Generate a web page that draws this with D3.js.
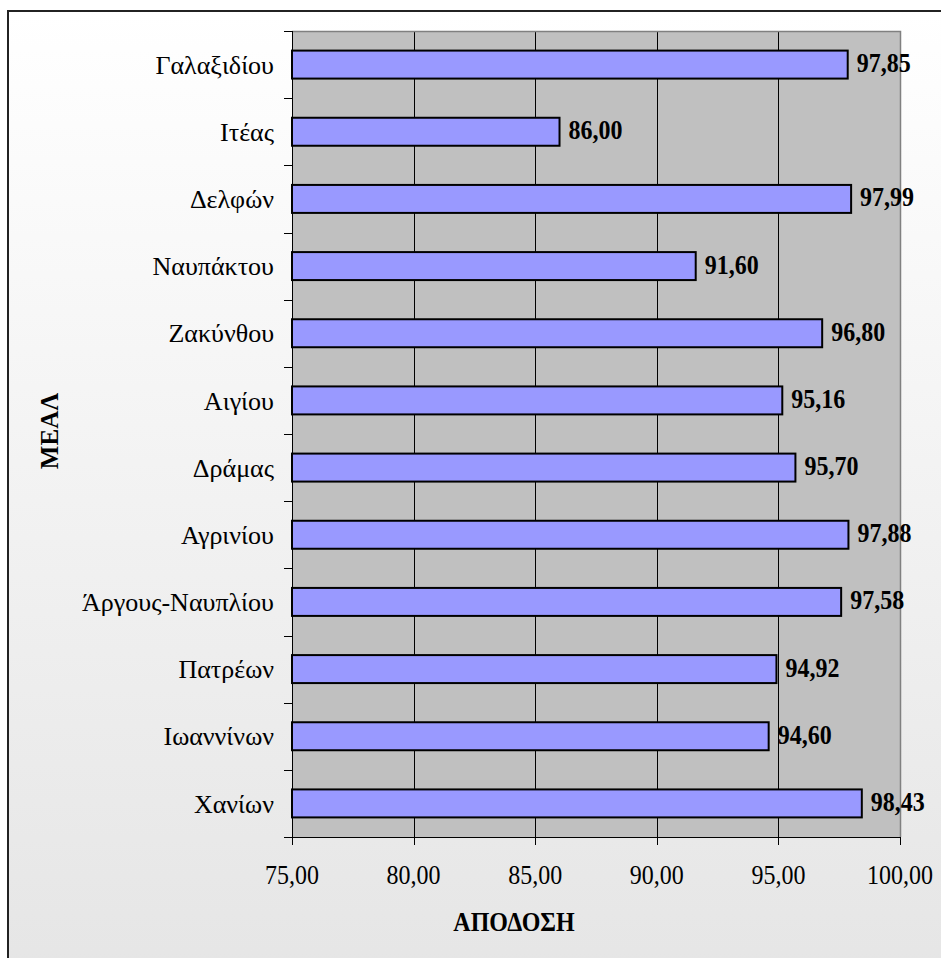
<!DOCTYPE html>
<html>
<head>
<meta charset="utf-8">
<script src="https://cdn.jsdelivr.net/npm/d3@7/dist/d3.min.js"></script>
<style>
  html, body { margin: 0; padding: 0; background: #ffffff; }
  svg { display: block; }
</style>
</head>
<body>
<svg id="chart" width="941" height="958" font-family="'Liberation Serif', 'Times New Roman', Times, serif"></svg>
<script>
// Schools (top to bottom) and their performance
const categories = [
  "Γαλαξιδίου", "Ιτέας", "Δελφών", "Ναυπάκτου", "Ζακύνθου", "Αιγίου",
  "Δράμας", "Αγρινίου", "Άργους-Ναυπλίου", "Πατρέων", "Ιωαννίνων", "Χανίων"
];
const values = [97.85, 86.00, 97.99, 91.60, 96.80, 95.16, 95.70, 97.88, 97.58, 94.92, 94.60, 98.43];
const xTicks = [75, 80, 85, 90, 95, 100];
const xTitle = "ΑΠΟΔΟΣΗ";
const yTitle = "ΜΕΑΛ";

const svg = d3.select("#chart");
const W = 941, H = 958;
const FONT = "'Liberation Serif', 'Times New Roman', Times, serif";
const STRETCH = 1.12; // slightly tall lettering for numbers and titles

// Chart-area background: soft vertical gradient inside a dark frame
const defs = svg.append("defs");
const grad = defs.append("linearGradient")
  .attr("id", "bg").attr("x1", 0).attr("y1", 0).attr("x2", 0).attr("y2", 1);
grad.append("stop").attr("offset", "0%").attr("stop-color", "#ffffff");
grad.append("stop").attr("offset", "100%").attr("stop-color", "#e5e5e5");

svg.append("rect")
  .attr("x", 8).attr("y", 11)
  .attr("width", W + 20).attr("height", H + 20)
  .attr("fill", "url(#bg)")
  .attr("stroke", "#222").attr("stroke-width", 2);

// Plot area
const plot = { left: 292, right: 900, top: 31, bottom: 837 };

const x = d3.scaleLinear().domain([75, 100]).range([plot.left, plot.right]);
const y = d3.scaleBand().domain(categories).range([plot.top, plot.bottom]).padding(0);
const barH = y.bandwidth() / 2.4;

svg.append("rect")
  .attr("x", plot.left).attr("y", plot.top)
  .attr("width", plot.right - plot.left).attr("height", plot.bottom - plot.top)
  .attr("fill", "#c0c0c0");

// Vertical gridlines
svg.append("g").selectAll("line")
  .data(xTicks.filter(t => t > 75 && t < 100))
  .join("line")
  .attr("x1", d => Math.round(x(d)) + 0.5).attr("x2", d => Math.round(x(d)) + 0.5)
  .attr("y1", plot.top).attr("y2", plot.bottom)
  .attr("stroke", "#000").attr("stroke-width", 1);

// Plot border (top and right) in grey
svg.append("path")
  .attr("d", `M${plot.left},${plot.top + 0.5}H${plot.right + 0.5}V${plot.bottom}`)
  .attr("fill", "none").attr("stroke", "#808080").attr("stroke-width", 1.5);

// Bars
svg.append("g").selectAll("rect")
  .data(values)
  .join("rect")
  .attr("x", plot.left)
  .attr("y", (d, i) => y(categories[i]) + (y.bandwidth() - barH) / 2)
  .attr("width", d => x(d) - plot.left)
  .attr("height", barH)
  .attr("fill", "#9999ff")
  .attr("stroke", "#000").attr("stroke-width", 2);

// Y axis: line, ticks between categories, labels
const yAxis = svg.append("g");
yAxis.append("line")
  .attr("x1", plot.left + 0.5).attr("x2", plot.left + 0.5)
  .attr("y1", plot.top).attr("y2", plot.bottom + 8)
  .attr("stroke", "#000");
const yTickPos = categories.map(c => y(c)).concat([plot.bottom]);
yAxis.selectAll("line.tick")
  .data(yTickPos)
  .join("line").attr("class", "tick")
  .attr("x1", plot.left - 8).attr("x2", plot.left)
  .attr("y1", d => Math.round(d) + 0.5).attr("y2", d => Math.round(d) + 0.5)
  .attr("stroke", "#000");
yAxis.selectAll("text")
  .data(categories)
  .join("text")
  .attr("x", plot.left - 18)
  .attr("y", d => y(d) + y.bandwidth() / 2)
  .attr("dy", "0.35em")
  .attr("text-anchor", "end")
  .attr("font-family", FONT)
  .attr("font-size", 26)
  .text(d => d);

// X axis
const xAxis = svg.append("g");
xAxis.append("line")
  .attr("x1", plot.left).attr("x2", plot.right + 0.5)
  .attr("y1", plot.bottom + 0.5).attr("y2", plot.bottom + 0.5)
  .attr("stroke", "#000");
xAxis.selectAll("line.tick")
  .data(xTicks)
  .join("line").attr("class", "tick")
  .attr("x1", d => Math.round(x(d)) + 0.5).attr("x2", d => Math.round(x(d)) + 0.5)
  .attr("y1", plot.bottom).attr("y2", plot.bottom + 8)
  .attr("stroke", "#000");
const fmt = v => v.toFixed(2).replace(".", ",");
xAxis.selectAll("text")
  .data(xTicks)
  .join("text")
  .attr("transform", d => `translate(${x(d)},${plot.bottom + 47}) scale(1,${STRETCH})`)
  .attr("text-anchor", "middle")
  .attr("font-family", FONT)
  .attr("font-size", 24)
  .text(d => fmt(d));

// Value labels
svg.append("g").selectAll("text")
  .data(values)
  .join("text")
  .attr("transform", (d, i) =>
    `translate(${x(d) + 9},${y(categories[i]) + y.bandwidth() / 2 + 7.5}) scale(1,${STRETCH})`)
  .attr("font-family", FONT)
  .attr("font-size", 24)
  .attr("font-weight", "bold")
  .text(d => fmt(d));

// Axis titles
svg.append("text")
  .attr("transform", `translate(514,931) scale(1,${STRETCH})`)
  .attr("text-anchor", "middle")
  .attr("font-family", FONT)
  .attr("font-size", 24).attr("font-weight", "bold")
  .text(xTitle);

svg.append("text")
  .attr("transform", `translate(58,431) rotate(-90)`)
  .attr("text-anchor", "middle")
  .attr("font-family", FONT)
  .attr("font-size", 25).attr("font-weight", "bold")
  .text(yTitle);
</script>
</body>
</html>
